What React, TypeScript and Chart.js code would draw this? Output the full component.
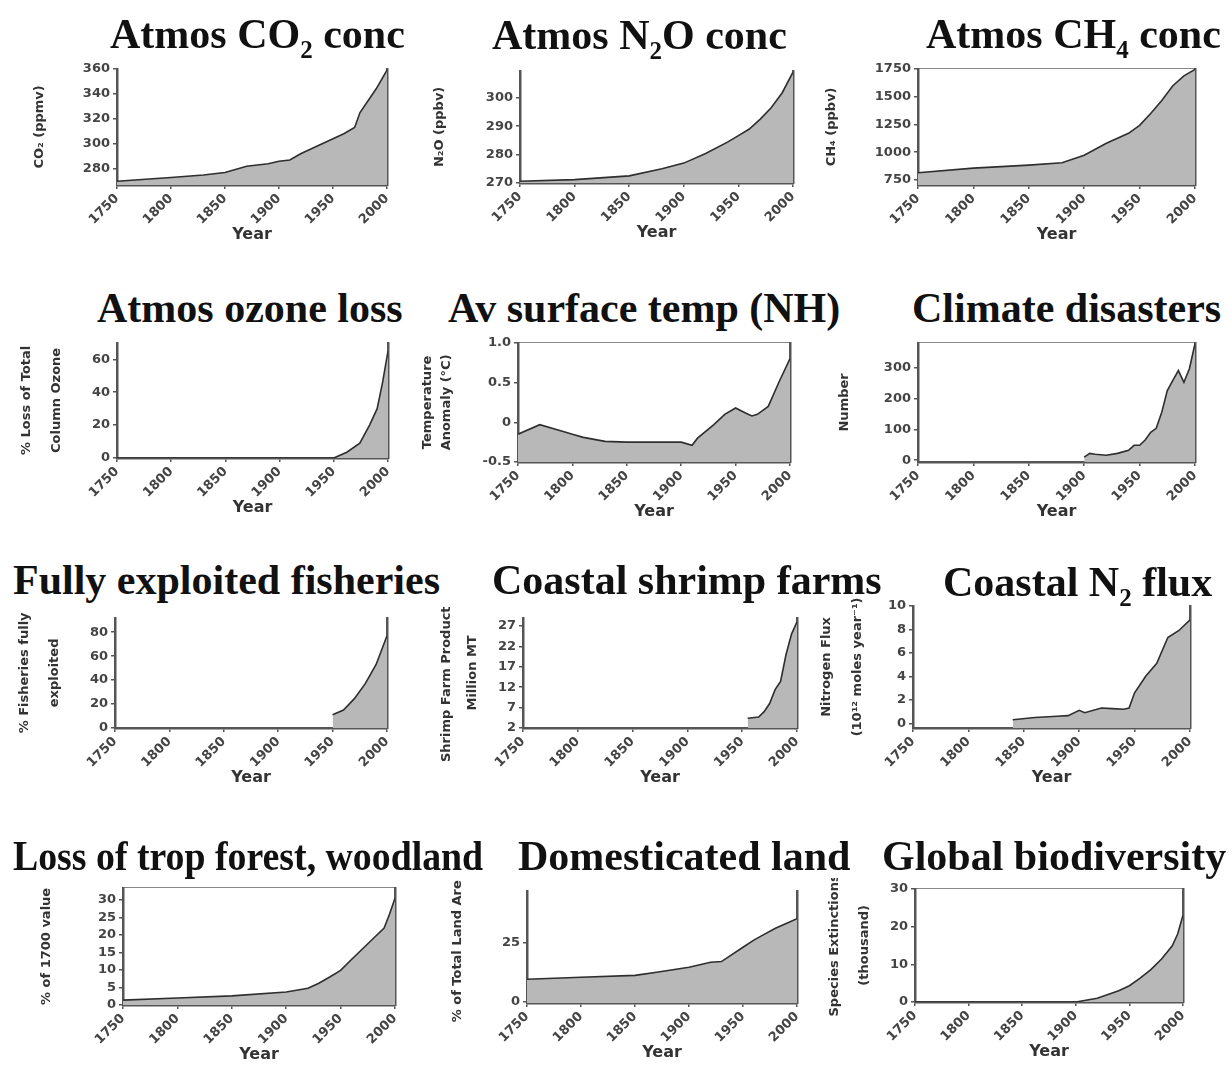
import React, { useEffect, useRef } from "react";
import { Chart, registerables } from "chart.js";

Chart.register(...registerables);

// ---------------- data ----------------
const YEAR_TICKS = [1750, 1800, 1850, 1900, 1950, 2000];

const CO2_YEARS = [1750, 1800, 1830, 1850, 1870, 1890, 1900, 1910, 1920, 1940, 1950, 1960, 1970, 1975, 1990, 2000];
const CO2_VALUES = [270, 273, 275, 277, 282, 284, 286, 287, 292, 300, 304, 308, 313, 325, 344, 359];
const CO2_TICKS = [280, 300, 320, 340, 360];

const N2O_YEARS = [1750, 1800, 1850, 1880, 1900, 1920, 1940, 1950, 1960, 1970, 1980, 1990, 2000];
const N2O_VALUES = [270.6, 271.2, 272.5, 275, 277, 280.4, 284.4, 286.7, 289, 292.5, 296.5, 301.7, 309];
const N2O_TICKS = [270, 280, 290, 300];

const CH4_YEARS = [1750, 1800, 1850, 1880, 1900, 1920, 1940, 1950, 1960, 1970, 1980, 1990, 2000];
const CH4_VALUES = [815, 857, 884, 905, 973, 1080, 1170, 1241, 1348, 1464, 1598, 1687, 1745];
const CH4_TICKS = [750, 1000, 1250, 1500, 1750];

const OZONE_YEARS = [1750, 1950, 1962, 1974, 1983, 1990, 1995, 2000];
const OZONE_VALUES = [0, 0, 3.5, 9, 20, 30, 46, 65];
const OZONE_TICKS = [0, 10, 20, 30, 40, 50, 60, 70];

const TEMP_YEARS = [1750, 1770, 1790, 1800, 1810, 1830, 1850, 1900, 1910, 1915, 1930, 1940, 1950, 1960, 1965, 1970, 1980, 1990, 2000];
const TEMP_VALUES = [-0.15, -0.03, -0.11, -0.15, -0.19, -0.24, -0.25, -0.25, -0.29, -0.2, -0.03, 0.1, 0.18, 0.11, 0.08, 0.1, 0.2, 0.51, 0.8];
const TEMP_TICKS = [-0.5, 0, 0.5, 1.0];
const TEMP_LABELS = ["-0.5", "0", "0.5", "1.0"];

const DISASTER_YEARS = [1900, 1905, 1910, 1920, 1930, 1940, 1945, 1950, 1955, 1960, 1965, 1970, 1975, 1980, 1985, 1990, 1995, 2000];
const DISASTER_VALUES = [10, 22, 19, 16, 22, 32, 48, 48, 65, 90, 103, 155, 225, 258, 290, 252, 297, 377];
const DISASTER_TICKS = [0, 100, 200, 300];

const FISH_YEARS = [1950, 1960, 1970, 1980, 1990, 2000];
const FISH_VALUES = [11, 15, 24.5, 37, 53, 77];
const FISH_TICKS = [0, 20, 40, 60, 80];

const SHRIMP_YEARS = [1955, 1965, 1970, 1975, 1980, 1985, 1990, 1995, 2000];
const SHRIMP_VALUES = [4.4, 4.7, 6, 8, 11.4, 13.4, 20, 25, 28];
const SHRIMP_TICKS = [2, 7, 12, 17, 22, 27];

const NFLUX_YEARS = [1840, 1860, 1880, 1890, 1900, 1905, 1920, 1930, 1940, 1945, 1950, 1960, 1970, 1980, 1990, 2000];
const NFLUX_VALUES = [0.3, 0.5, 0.6, 0.65, 1.1, 0.9, 1.3, 1.25, 1.2, 1.3, 2.6, 4.0, 5.1, 7.3, 7.9, 8.8];
const NFLUX_TICKS = [0, 2, 4, 6, 8, 10];

const FOREST_YEARS = [1750, 1800, 1850, 1900, 1920, 1930, 1940, 1950, 1960, 1970, 1980, 1990, 1995, 2000];
const FOREST_VALUES = [1.4, 2, 2.6, 3.7, 4.8, 6.2, 8, 9.9, 13, 16, 19, 22, 26, 30.5];
const FOREST_TICKS = [0, 5, 10, 15, 20, 25, 30];

const LAND_YEARS = [1750, 1800, 1850, 1870, 1900, 1920, 1930, 1950, 1960, 1970, 1980, 1990, 2000];
const LAND_VALUES = [9.6, 10.4, 11.2, 12.5, 14.6, 16.7, 17, 23, 26, 28.5, 31, 33, 35];
const LAND_TICKS = [0, 25];

const BIO_YEARS = [1750, 1900, 1920, 1940, 1950, 1960, 1970, 1980, 1990, 1995, 2000];
const BIO_VALUES = [0, 0, 1, 3, 4.3, 6.3, 8.6, 11.4, 14.9, 18, 23];
const BIO_TICKS = [0, 10, 20, 30];

// ---------------- panels ----------------
type PanelDef = {
  title: React.ReactNode;
  titleLeft: number;
  titleTop: number;
  titleScale?: number;
  rect: [number, number, number, number];
  yMin: number;
  yMax: number;
  yTicks: number[];
  yLabels?: string[];
  yTitle: string | string[];
  gap: number;
  lh: number;
  years: number[];
  values: number[];
  topBorder: boolean;
};

const SUB: React.CSSProperties = { fontSize: "25px", verticalAlign: "-10px", lineHeight: 0 };

const PANELS: PanelDef[] = [
  {
    title: (<>Atmos CO<span style={SUB}>2</span> conc</>),
    titleLeft: 110, titleTop: 13, rect: [117, 68, 387, 185],
    yMin: 267, yMax: 360, yTicks: CO2_TICKS, yTitle: "CO₂ (ppmv)", gap: 77, lh: 16,
    years: CO2_YEARS, values: CO2_VALUES, topBorder: false,
  },
  {
    title: (<>Atmos N<span style={SUB}>2</span>O conc</>),
    titleLeft: 492, titleTop: 14, rect: [520, 70, 793, 183],
    yMin: 270, yMax: 309.5, yTicks: N2O_TICKS, yTitle: "N₂O (ppbv)", gap: 80, lh: 16,
    years: N2O_YEARS, values: N2O_VALUES, topBorder: false,
  },
  {
    title: (<>Atmos CH<span style={SUB}>4</span> conc</>),
    titleLeft: 926, titleTop: 13, rect: [918, 68, 1195, 185],
    yMin: 705, yMax: 1750, yTicks: CH4_TICKS, yTitle: "CH₄ (ppbv)", gap: 86, lh: 16,
    years: CH4_YEARS, values: CH4_VALUES, topBorder: true,
  },
  {
    title: "Atmos ozone loss",
    titleLeft: 97, titleTop: 287, rect: [117, 342, 388, 458],
    yMin: 0, yMax: 70, yTicks: OZONE_TICKS, yTitle: ["% Loss of Total", "Column Ozone"], gap: 90, lh: 30,
    years: OZONE_YEARS, values: OZONE_VALUES, topBorder: false,
  },
  {
    title: "Av surface temp (NH)",
    titleLeft: 448, titleTop: 287, rect: [518, 342, 790, 462],
    yMin: -0.5, yMax: 1.0, yTicks: TEMP_TICKS, yLabels: TEMP_LABELS, yTitle: ["Temperature", "Anomaly (°C)"], gap: 90, lh: 19,
    years: TEMP_YEARS, values: TEMP_VALUES, topBorder: true,
  },
  {
    title: "Climate disasters",
    titleLeft: 912, titleTop: 287, rect: [918, 342, 1195, 462],
    yMin: -6, yMax: 380, yTicks: DISASTER_TICKS, yTitle: "Number", gap: 73, lh: 16,
    years: DISASTER_YEARS, values: DISASTER_VALUES, topBorder: true,
  },
  {
    title: "Fully exploited fisheries",
    titleLeft: 13, titleTop: 559, rect: [115, 617, 387, 728],
    yMin: 0, yMax: 92, yTicks: FISH_TICKS, yTitle: ["% Fisheries fully", "exploited"], gap: 90, lh: 30,
    years: FISH_YEARS, values: FISH_VALUES, topBorder: false,
  },
  {
    title: "Coastal shrimp farms",
    titleLeft: 492, titleTop: 559, rect: [523, 617, 797, 728],
    yMin: 2, yMax: 29, yTicks: SHRIMP_TICKS, yTitle: ["Shrimp Farm Production", "Million MT"], gap: 76, lh: 26,
    years: SHRIMP_YEARS, values: SHRIMP_VALUES, topBorder: false,
  },
  {
    title: (<>Coastal N<span style={SUB}>2</span> flux</>),
    titleLeft: 943, titleTop: 561, rect: [913, 605, 1190, 728],
    yMin: -0.4, yMax: 10, yTicks: NFLUX_TICKS, yTitle: ["Nitrogen Flux", "(10¹² moles year⁻¹)"], gap: 86, lh: 31,
    years: NFLUX_YEARS, values: NFLUX_VALUES, topBorder: false,
  },
  {
    title: "Loss of trop forest, woodland",
    titleLeft: 13, titleTop: 835, titleScale: 0.9, rect: [123, 887, 395, 1005],
    yMin: 0, yMax: 33.5, yTicks: FOREST_TICKS, yTitle: "% of 1700 value", gap: 76, lh: 16,
    years: FOREST_YEARS, values: FOREST_VALUES, topBorder: true,
  },
  {
    title: "Domesticated land",
    titleLeft: 518, titleTop: 835, rect: [527, 890, 797, 1003],
    yMin: -0.4, yMax: 46.7, yTicks: LAND_TICKS, yTitle: "% of Total Land Area", gap: 69, lh: 16,
    years: LAND_YEARS, values: LAND_VALUES, topBorder: false,
  },
  {
    title: "Global biodiversity",
    titleLeft: 882, titleTop: 835, rect: [915, 888, 1183, 1002],
    yMin: 0, yMax: 30, yTicks: BIO_TICKS, yTitle: ["Species Extinctions", "(thousand)"], gap: 80, lh: 30,
    years: BIO_YEARS, values: BIO_VALUES, topBorder: true,
  },
];

const SANS = '"DejaVu Sans", "Liberation Sans", sans-serif';
const AXIS_COLOR = "#555";
const FILL_COLOR = "#b8b8b8";

function Panel({ def }: { def: PanelDef }) {
  const ref = useRef<HTMLCanvasElement | null>(null);
  const [L, T, R, B] = def.rect;
  const W = Math.round(def.gap + def.lh / 2);
  const TOPB = 10, RIGHTB = 10, PADR = 12, H = 59, PADB = 4;
  const width = W + (R - L) + RIGHTB + PADR;
  const height = TOPB + (B - T) + H + PADB;

  useEffect(() => {
    const canvas = ref.current;
    if (!canvas) return;
    const points = def.years.map((x, i) => ({ x, y: def.values[i] }));
    const chart = new Chart(canvas, {
      type: "line",
      data: {
        datasets: [
          {
            data: points,
            xAxisID: "x",
            yAxisID: "y",
            fill: "start",
            backgroundColor: FILL_COLOR,
            borderColor: "#2e2e2e",
            borderWidth: 1.6,
            pointRadius: 0,
            tension: 0,
          },
        ],
      },
      options: {
        animation: false,
        responsive: false,
        devicePixelRatio: 1,
        layout: { padding: { left: 0, top: 0, right: PADR, bottom: PADB } },
        plugins: { legend: { display: false }, tooltip: { enabled: false }, title: { display: false } },
        scales: {
          x: {
            type: "linear",
            position: "bottom",
            min: 1750,
            max: 2000,
            afterBuildTicks: (s: any) => { s.ticks = YEAR_TICKS.map((v) => ({ value: v })); },
            afterFit: (s: any) => { s.height = H; },
            ticks: {
              autoSkip: false,
              minRotation: 45,
              maxRotation: 45,
              padding: 2,
              color: "#444",
              font: { family: SANS, size: 13, weight: "bold" },
              callback: (v: any) => String(v),
            },
            grid: { display: true, drawOnChartArea: false, drawTicks: true, tickLength: 4, color: AXIS_COLOR, lineWidth: 1.5 },
            border: { display: true, color: AXIS_COLOR, width: 2.5 },
            title: {
              display: true,
              text: "Year",
              color: "#333",
              padding: 0,
              font: { family: SANS, size: 16, weight: "bold", lineHeight: 1.2 },
            },
          },
          x2: {
            type: "linear",
            position: "top",
            min: 1750,
            max: 2000,
            afterFit: (s: any) => { s.height = TOPB; },
            ticks: { display: false },
            grid: { display: false },
            border: { display: def.topBorder, color: "#888", width: 1 },
          },
          y: {
            type: "linear",
            position: "left",
            min: def.yMin,
            max: def.yMax,
            afterBuildTicks: (s: any) => { s.ticks = def.yTicks.map((v) => ({ value: v })); },
            afterFit: (s: any) => { s.width = W; },
            ticks: {
              padding: 3,
              color: "#444",
              font: { family: SANS, size: 13, weight: "bold" },
              callback: (v: any, i: number) => (def.yLabels ? def.yLabels[i] : String(v)),
            },
            grid: { display: true, drawOnChartArea: false, drawTicks: true, tickLength: 4, color: AXIS_COLOR, lineWidth: 1.5 },
            border: { display: true, color: AXIS_COLOR, width: 2.5 },
            title: {
              display: true,
              text: def.yTitle,
              color: "#333",
              padding: 0,
              font: { family: SANS, size: 13, weight: "bold", lineHeight: `${def.lh}px` },
            },
          },
          y2: {
            type: "linear",
            position: "right",
            afterFit: (s: any) => { s.width = RIGHTB; },
            ticks: { display: false },
            grid: { display: false },
            border: { display: true, color: AXIS_COLOR, width: 2.5 },
          },
        },
      } as any,
    });
    return () => chart.destroy();
  }, []);

  return (
    <canvas
      ref={ref}
      width={width}
      height={height}
      style={{ position: "absolute", left: L - W, top: T - TOPB, width, height }}
    />
  );
}

function Title({ def }: { def: PanelDef }) {
  return (
    <div
      style={{
        position: "absolute",
        left: def.titleLeft,
        top: def.titleTop,
        fontFamily: '"Liberation Serif", "Times New Roman", serif',
        fontWeight: "bold",
        fontSize: "42px",
        lineHeight: "42px",
        whiteSpace: "nowrap",
        color: "#111",
        transform: def.titleScale ? `scaleX(${def.titleScale})` : undefined,
        transformOrigin: "left top",
      }}
    >
      {def.title}
    </div>
  );
}

export default function App() {
  return (
    <div style={{ position: "absolute", left: 0, top: 0, width: 1229, height: 1067, background: "#fff", overflow: "hidden" }}>
      {PANELS.map((p, i) => (
        <Panel key={"c" + i} def={p} />
      ))}
      {PANELS.map((p, i) => (
        <Title key={"t" + i} def={p} />
      ))}
    </div>
  );
}
